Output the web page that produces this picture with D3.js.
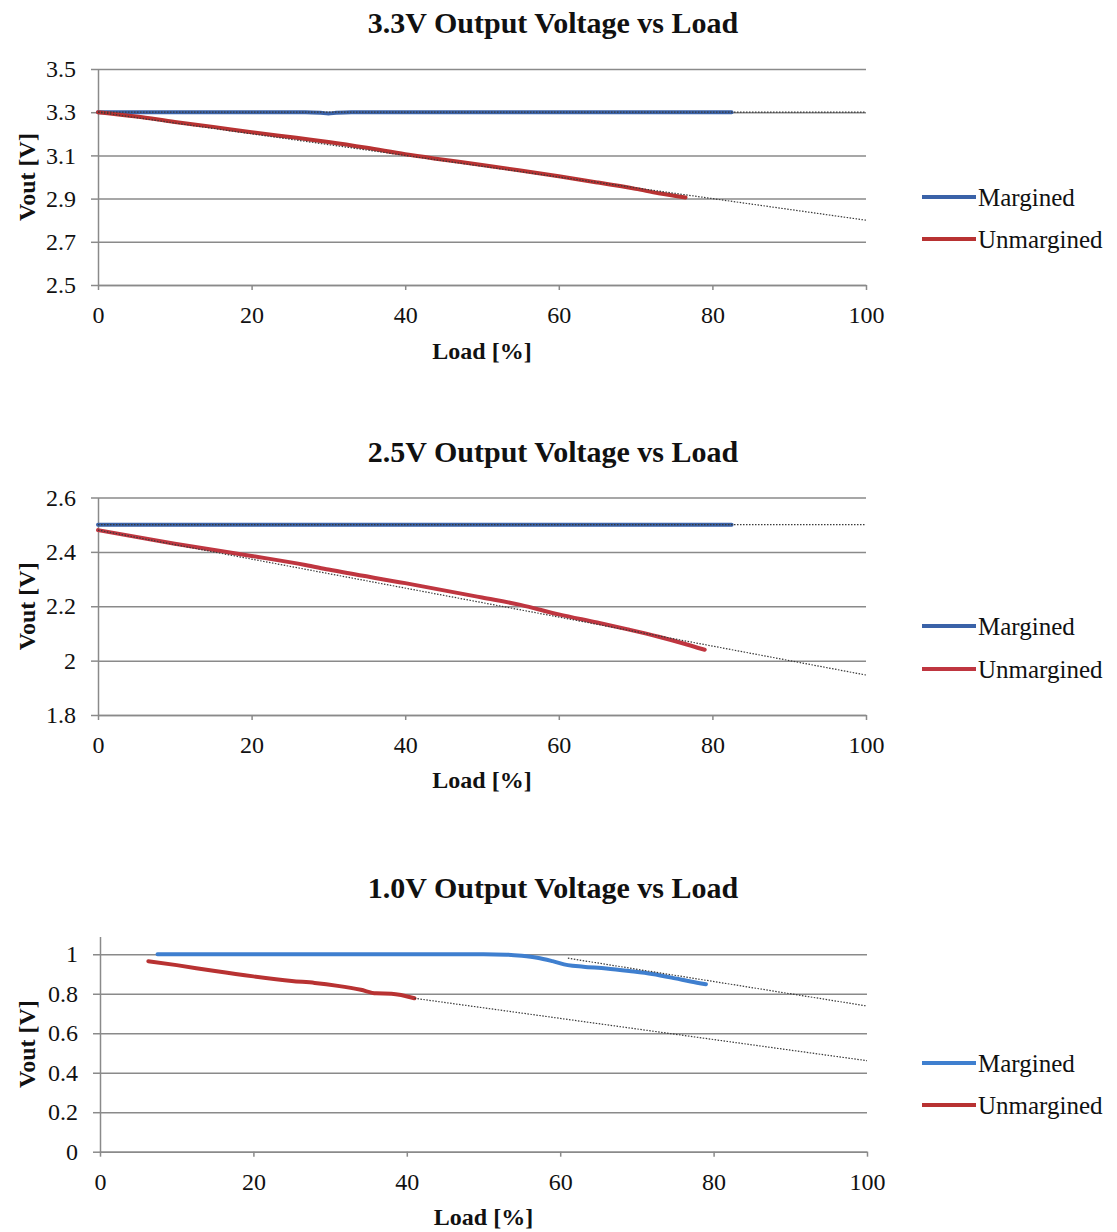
<!DOCTYPE html>
<html>
<head>
<meta charset="utf-8">
<script src="https://d3js.org/d3.v7.min.js"></script>
<style>
  body { margin: 0; background: #fff; }
  text { font-family: "Liberation Serif", "Times New Roman", serif; fill: #111; }
</style>
</head>
<body>
<div id="chart"></div>
<script>
// ---- data ----
var loadTicks = [0, 20, 40, 60, 80, 100];
var seriesNames = ["Margined", "Unmargined"];

// 3.3V rail
var title33 = "3.3V Output Voltage vs Load";
var yTicks33 = [2.5, 2.7, 2.9, 3.1, 3.3, 3.5];
var load33Marg = [0, 10, 20, 27, 29, 30, 31, 33, 40, 50, 60, 70, 82.5];
var v33Marg    = [3.3, 3.3, 3.3, 3.3, 3.297, 3.294, 3.297, 3.3, 3.3, 3.3, 3.3, 3.3, 3.3];
var load33Unm  = [0, 5, 10, 15, 20, 25, 27.5, 30, 35, 40, 45, 50, 55, 60, 65, 70, 73, 76.5];
var v33Unm     = [3.3, 3.28, 3.255, 3.232, 3.207, 3.185, 3.174, 3.162, 3.135, 3.105, 3.08, 3.056, 3.03, 3.003, 2.975, 2.945, 2.925, 2.905];
var trend33MargLoad = [0, 100], trend33MargV = [3.3, 3.3];
var trend33UnmLoad  = [0, 100], trend33UnmV  = [3.3, 2.8];

// 2.5V rail
var title25 = "2.5V Output Voltage vs Load";
var yTicks25 = [1.8, 2, 2.2, 2.4, 2.6];
var load25Marg = [0, 10, 20, 30, 40, 50, 60, 70, 82.5];
var v25Marg    = [2.5, 2.5, 2.5, 2.5, 2.5, 2.5, 2.5, 2.5, 2.5];
var load25Unm  = [0, 10, 20, 27, 30, 40, 50, 55, 60, 65, 69, 73, 76, 79];
var v25Unm     = [2.48, 2.43, 2.385, 2.352, 2.335, 2.285, 2.232, 2.205, 2.17, 2.14, 2.115, 2.088, 2.065, 2.04];
var trend25MargLoad = [0, 100], trend25MargV = [2.5, 2.5];
var trend25UnmLoad  = [0, 100], trend25UnmV  = [2.48, 1.947];

// 1.0V rail
var title10 = "1.0V Output Voltage vs Load";
var yTicks10 = [0, 0.2, 0.4, 0.6, 0.8, 1];
var load10Marg = [7.5, 20, 40, 50, 53, 55, 57, 59, 61, 63, 66, 69, 72, 75, 77, 79];
var v10Marg    = [1.0, 1.0, 1.0, 1.0, 0.998, 0.992, 0.982, 0.965, 0.945, 0.937, 0.928, 0.915, 0.9, 0.878, 0.862, 0.848];
var load10Unm  = [6.3, 10, 15, 20, 25, 28, 31, 34, 36, 38, 41];
var v10Unm     = [0.965, 0.945, 0.915, 0.888, 0.865, 0.855, 0.84, 0.82, 0.802, 0.8, 0.777];
var trend10MargLoad = [61, 100], trend10MargV = [0.98, 0.738];
var trend10UnmLoad  = [41, 100], trend10UnmV  = [0.777, 0.461];

function pts(xs, ys) { return xs.map(function(d, i) { return [d, ys[i]]; }); }

// ---- panel layout ----
var panels = [
  { title: title33, yTicks: yTicks33, yDomain: [2.5, 3.5],
    marg: pts(load33Marg, v33Marg), unm: pts(load33Unm, v33Unm),
    trends: [pts(trend33MargLoad, trend33MargV), pts(trend33UnmLoad, trend33UnmV)],
    x0: 98, x1: 866, yTop: 69, yBot: 285, titleY: 22, loadY: 351, legY: [197, 239],
    margColor: "#3a62a8", unmColor: "#b83232" },
  { title: title25, yTicks: yTicks25, yDomain: [1.8, 2.6],
    marg: pts(load25Marg, v25Marg), unm: pts(load25Unm, v25Unm),
    trends: [pts(trend25MargLoad, trend25MargV), pts(trend25UnmLoad, trend25UnmV)],
    x0: 98, x1: 866, yTop: 497.5, yBot: 715, titleY: 451, loadY: 780, legY: [626, 669],
    margColor: "#3a62a8", unmColor: "#bf3640" },
  { title: title10, yTicks: yTicks10, yDomain: [0, 1.09],
    marg: pts(load10Marg, v10Marg), unm: pts(load10Unm, v10Unm),
    trends: [pts(trend10MargLoad, trend10MargV), pts(trend10UnmLoad, trend10UnmV)],
    x0: 100, x1: 867, yTop: 936.5, yBot: 1151.7, titleY: 887, loadY: 1217, legY: [1063, 1105],
    margColor: "#3f7fcf", unmColor: "#b83232" }
];

var svg = d3.select("#chart")
  .append("svg")
    .attr("width", 1117)
    .attr("height", 1232);

var gridColor = "#8a8a8a";

panels.forEach(function(p) {
  var x = d3.scaleLinear().domain([0, 100]).range([p.x0, p.x1]);
  var y = d3.scaleLinear().domain(p.yDomain).range([p.yBot, p.yTop]);
  var g = svg.append("g");

  // title
  g.append("text")
    .attr("x", 553).attr("y", p.titleY).attr("dy", "0.35em")
    .attr("text-anchor", "middle")
    .style("font-size", "30px").style("font-weight", "bold")
    .text(p.title);

  // horizontal gridlines
  var grid = g.append("g")
    .attr("transform", "translate(" + p.x0 + ",0)")
    .call(d3.axisLeft(y).tickValues(p.yTicks).tickSize(-(p.x1 - p.x0)).tickFormat(""));
  grid.select(".domain").remove();
  grid.selectAll("line").attr("stroke", gridColor).attr("stroke-width", 1.5);

  // y axis
  var ya = g.append("g")
    .attr("transform", "translate(" + p.x0 + ",0)")
    .call(d3.axisLeft(y).tickValues(p.yTicks).tickSizeInner(7).tickSizeOuter(0).tickPadding(15)
      .tickFormat(function(d) { return String(d); }));
  ya.select(".domain").attr("stroke", gridColor).attr("stroke-width", 1.5);
  ya.selectAll("line").attr("stroke", gridColor).attr("stroke-width", 1.5);
  ya.selectAll("text").style("font-size", "24px").style("font-family", "Liberation Serif").attr("fill", "#111");

  // x axis
  var xa = g.append("g")
    .attr("transform", "translate(0," + p.yBot + ")")
    .call(d3.axisBottom(x).tickValues(loadTicks).tickSizeInner(5).tickSizeOuter(0).tickPadding(16));
  xa.select(".domain").attr("stroke", gridColor).attr("stroke-width", 1.5);
  xa.selectAll("line").attr("stroke", gridColor).attr("stroke-width", 1.5);
  xa.selectAll("text").style("font-size", "24px").style("font-family", "Liberation Serif").attr("fill", "#111");

  // axis titles
  g.append("text")
    .attr("x", (p.x0 + p.x1) / 2).attr("y", p.loadY).attr("dy", "0.35em")
    .attr("text-anchor", "middle")
    .style("font-size", "24px").style("font-weight", "bold")
    .text("Load [%]");
  g.append("text")
    .attr("transform", "translate(27," + ((p.yTop + p.yBot) / 2) + ") rotate(-90)")
    .attr("dy", "0.35em")
    .attr("text-anchor", "middle")
    .style("font-size", "24px").style("font-weight", "bold")
    .text("Vout [V]");

  var line = d3.line()
    .x(function(d) { return x(d[0]); })
    .y(function(d) { return y(d[1]); })
    .curve(d3.curveMonotoneX);

  // series
  g.append("path").datum(p.marg)
    .attr("d", line).attr("fill", "none")
    .attr("stroke", p.margColor).attr("stroke-width", 4)
    .attr("stroke-linecap", "round");
  g.append("path").datum(p.unm)
    .attr("d", line).attr("fill", "none")
    .attr("stroke", p.unmColor).attr("stroke-width", 4)
    .attr("stroke-linecap", "round");

  // dotted linear trendlines
  p.trends.forEach(function(t) {
    g.append("path").datum(t)
      .attr("d", d3.line().x(function(d) { return x(d[0]); }).y(function(d) { return y(d[1]); }))
      .attr("fill", "none")
      .attr("stroke", "#3a3a3a").attr("stroke-width", 1.2)
      .attr("stroke-dasharray", "1.5,1.5");
  });

  // legend
  var colors = [p.margColor, p.unmColor];
  seriesNames.forEach(function(name, i) {
    g.append("line")
      .attr("x1", 922).attr("x2", 976)
      .attr("y1", p.legY[i]).attr("y2", p.legY[i])
      .attr("stroke", colors[i]).attr("stroke-width", 4);
    g.append("text")
      .attr("x", 978).attr("y", p.legY[i]).attr("dy", "0.35em")
      .style("font-size", "25px")
      .text(name);
  });
});
</script>
</body>
</html>
